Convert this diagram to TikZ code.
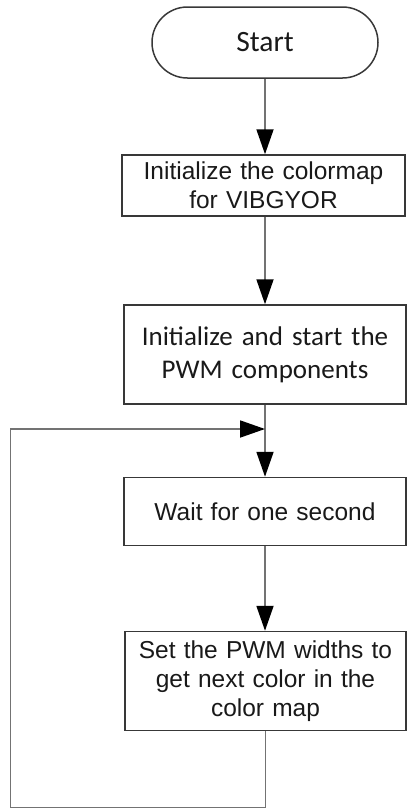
\documentclass[tikz,border=0pt]{standalone}
\usepackage{fontspec}
\setmainfont{Liberation Sans}
\newfontfamily\calibri{Carlito}
\usetikzlibrary{arrows.meta, shapes.misc}

\tikzset{
  stepbox/.style={draw=black!78, line width=1.5pt, inner sep=0pt, align=center,
    text=black!90, font=\fontsize{24.5}{29}\selectfont},
  flowline/.style={draw=black!55, line width=1.8pt},
  flowarrow/.style={flowline, -{Triangle[length=25pt, width=17pt, black]}}
}

\begin{document}
\begin{tikzpicture}[x=1pt, y=-1pt]
  \useasboundingbox (0,0) rectangle (407,809);
  % boxes
  \node[stepbox, rounded rectangle, minimum width=226pt, minimum height=71pt,
    font=\calibri\fontsize{29.5}{33}\selectfont] (start) at (265,42.5) {Start};
  \node[stepbox, text width=283pt, minimum height=61pt] (initmap) at (263.5,185.5)
    {Initialize the colormap\\for VIBGYOR};
  \node[stepbox, text width=282pt, minimum height=99pt,
    font=\calibri\fontsize{27}{33}\selectfont] (initpwm) at (265,354.5)
    {Initialize and start the\\PWM components};
  \node[stepbox, text width=282pt, minimum height=68pt] (wait) at (265,511.5)
    {Wait for one second};
  \node[stepbox, text width=281pt, minimum height=99pt] (setpwm) at (265.5,681)
    {Set the PWM widths to\\get next color in the\\color map};
  \coordinate (join) at (initpwm.south |- 0,429);
  \coordinate (corner) at (10.5,807.5);
  % connectors
  \draw[flowarrow] (start.south) -- (start.south |- initmap.north);
  \draw[flowarrow] (initmap.south -| start.south) -- (start.south |- initpwm.north);
  \draw[flowarrow] (initpwm.south) -- (initpwm.south |- wait.north);
  \draw[flowarrow] (wait.south) -- (wait.south |- setpwm.north);
  \draw[flowarrow] (setpwm.south) |- (corner) |- (join);
\end{tikzpicture}
\end{document}
